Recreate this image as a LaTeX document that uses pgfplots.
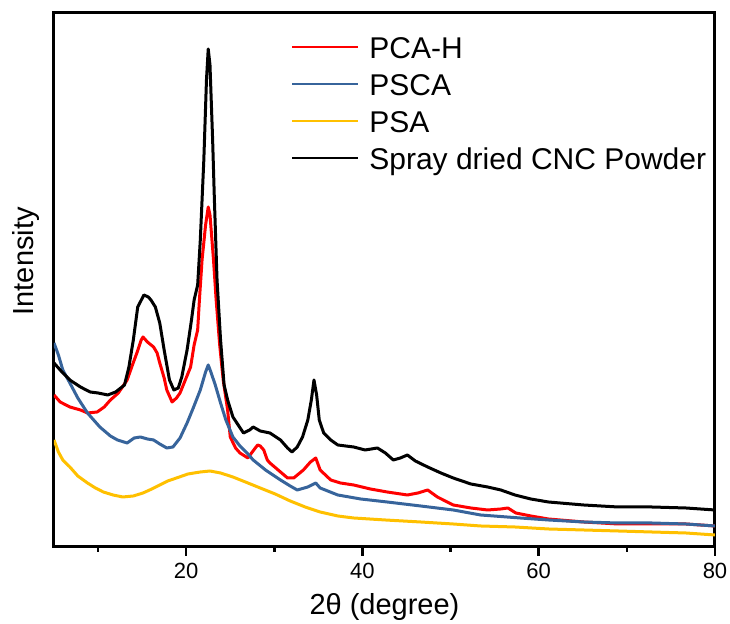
\documentclass[border=0pt]{standalone}
\usepackage{pgfplots}
\pgfplotsset{compat=1.18}
\usepackage{fontspec}
\setmainfont{Liberation Sans}
\definecolor{cRed}{RGB}{255,0,0}
\definecolor{cBlue}{RGB}{55,100,155}
\definecolor{cYel}{RGB}{255,192,0}
\begin{document}
\begin{tikzpicture}
\useasboundingbox (0,0) rectangle (365pt,312pt);
\begin{axis}[
  at={(27pt,38.5pt)}, anchor=south west,
  scale only axis, width=330.5pt, height=267pt,
  xmin=5, xmax=80, ymin=0, ymax=534,
  axis line style={line width=1.5pt},
  xtick={20,40,60,80}, minor xtick={10,30,50,70},
  xtick pos=bottom, ytick=\empty,
  tick align=outside,
  major tick length=4.5pt, minor tick length=2.5pt,
  every tick/.style={line width=1.3pt, black},
  /pgf/number format/assume math mode=true,
  xticklabel style={font=\fontsize{11}{13}\selectfont},
  xlabel={2θ (degree)}, ylabel={Intensity},
  every axis x label/.style={at={(axis description cs:0.5,0)}, yshift=-30pt, anchor=center, font=\fontsize{14.5}{17}\selectfont},
  every axis y label/.style={at={(axis description cs:0,0.535)}, xshift=-14pt, rotate=90, anchor=center, font=\fontsize{14.5}{17}\selectfont},
  legend cell align=left,
  legend image code/.code={\draw[#1, line width=1pt] (0pt,0pt) -- (33pt,0pt);},
  legend style={at={(axis description cs:0.3585,0.957)}, anchor=north west,
    draw=none, fill=none, inner sep=0pt, row sep=7.5pt, column sep=5pt,
    nodes={inner sep=0pt, text height=11pt, text depth=0pt},
    font=\fontsize{15}{18}\selectfont},
  every axis plot/.append style={line width=1.5pt, line join=round},
]
\addplot[cRed] coordinates {
(5.0,152)(5.7,145)(6.8,140)(8.0,137)(8.8,134)(9.9,135)(10.7,140)(11.4,147)(12.3,154)(13.3,167)(13.9,182)(14.4,194)(14.9,207)(15.1,210)(15.6,205)(16.3,200)(16.7,194)(17.0,184)(17.5,169)(17.8,157)(18.4,145)(18.9,149)(19.3,154)(19.9,167)(20.5,180)(20.9,202)(21.3,217)(21.5,247)(21.8,287)(22.2,322)(22.5,340)(22.7,332)(23.1,287)(23.4,247)(23.8,202)(24.2,167)(24.7,137)(25.0,110)(25.6,99)(26.1,94)(27.0,89)(27.5,95)(28.1,102)(28.4,101)(28.8,97)(29.2,87)(29.5,84)(30.7,75)(31.5,69)(32.2,69)(33.3,77)(34.1,85)(34.7,89)(35.2,77)(36.4,67)(37.5,64)(39.0,62)(40.9,58)(42.8,55)(45.1,52)(46.3,54)(47.4,57)(48.5,50)(50.3,42)(52.3,39)(54.2,37)(55.7,38)(56.5,39)(57.4,34)(59.1,31)(61.1,28)(65.1,25)(69.0,23)(72.8,23)(76.7,23)(80.0,21)
};
\addlegendentry{PCA-H}
\addplot[cBlue] coordinates {
(5.0,204)(5.5,192)(6.0,177)(6.8,164)(7.7,149)(8.8,134)(10.2,120)(11.4,111)(12.2,107)(13.3,104)(14.1,109)(14.8,110)(15.6,108)(16.3,107)(17.0,103)(17.8,99)(18.5,100)(19.3,109)(20.1,124)(20.8,139)(21.6,157)(22.2,175)(22.5,182)(22.8,175)(23.3,162)(23.9,144)(24.5,127)(25.3,110)(26.1,101)(26.9,94)(27.6,87)(29.0,77)(30.7,67)(31.8,61)(32.6,57)(33.8,60)(34.7,64)(35.2,59)(37.2,52)(39.8,48)(42.8,45)(46.6,41)(50.3,37)(53.4,32)(57.9,29)(61.1,27)(65.1,25)(69.0,24)(72.8,24)(76.7,23)(80.0,21)
};
\addlegendentry{PSCA}
\addplot[cYel] coordinates {
(5.0,107)(5.5,95)(6.0,87)(6.8,80)(7.7,71)(8.8,64)(9.7,59)(10.6,55)(11.7,52)(12.8,50)(14.0,51)(15.1,54)(16.1,58)(17.0,62)(17.9,66)(18.9,69)(20.2,73)(21.6,75)(22.7,76)(23.9,74)(25.3,70)(27.0,64)(28.4,59)(30.1,53)(31.8,46)(33.5,40)(35.2,35)(37.2,31)(39.0,29)(42.6,27)(46.6,25)(50.3,23)(53.4,21)(57.3,20)(61.1,18)(65.1,17)(69.0,16)(72.8,15)(76.7,14)(80.0,12)
};
\addlegendentry{PSA}
\addplot[black] coordinates {
(5.0,184)(5.9,175)(6.8,167)(8.0,160)(9.1,155)(10.0,154)(11.1,152)(12.0,155)(13.0,162)(13.5,180)(14.0,207)(14.5,240)(15.2,252)(15.7,250)(16.0,247)(16.5,240)(17.0,224)(17.5,197)(18.1,167)(18.6,157)(19.1,159)(19.5,170)(20.1,197)(20.6,227)(20.9,247)(21.3,262)(21.6,307)(22.0,387)(22.3,467)(22.5,498)(22.7,482)(23.0,407)(23.2,347)(23.5,267)(23.9,207)(24.3,162)(24.7,147)(25.3,130)(26.5,114)(27.2,117)(27.6,120)(28.4,116)(29.5,114)(30.7,107)(31.5,99)(32.0,95)(32.6,100)(33.2,110)(33.8,127)(34.2,147)(34.5,167)(34.8,152)(35.1,127)(35.6,114)(36.4,107)(37.2,102)(39.0,100)(40.3,97)(41.7,99)(42.6,94)(43.5,87)(44.3,89)(45.1,92)(46.0,86)(47.4,80)(48.9,74)(50.3,69)(52.3,63)(54.2,60)(55.7,57)(57.3,52)(59.1,48)(61.1,45)(65.1,42)(69.0,40)(72.8,40)(76.7,39)(80.0,37)
};
\addlegendentry{Spray dried CNC Powder}
\end{axis}
\end{tikzpicture}
\end{document}
